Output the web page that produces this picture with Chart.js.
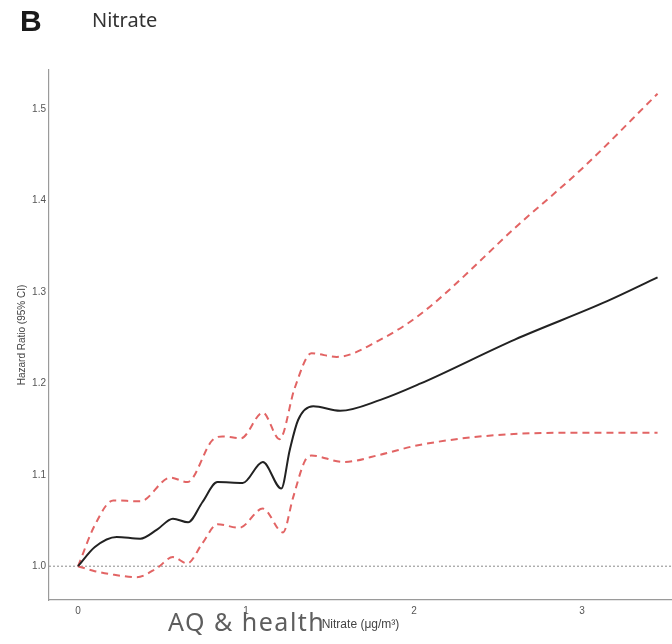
<!DOCTYPE html>
<html>
<head>
<meta charset="utf-8">
<script src="https://cdn.jsdelivr.net/npm/chart.js@4.4.1/dist/chart.umd.min.js"></script>
<style>
  body { margin: 0; background: #fff; }
  #wrap { position: relative; width: 672px; height: 644px; }
  .txt { position: absolute; white-space: nowrap; }
  #panel { left: 20px; top: 4px; font: bold 30px "Liberation Sans", Arial, sans-serif; color: #1a1a1a; }
  #title { left: 92px; top: 6px; font: 20px "Noto Sans", "Open Sans", sans-serif; color: #333; }
  #mark { left: 168px; top: 604px; font: 25px "Noto Sans", "Open Sans", sans-serif; letter-spacing: 1.5px; color: #5e5e5e; }
</style>
</head>
<body>
<div id="wrap">
  <canvas id="nitrate-chart"></canvas>
  <div class="txt" id="panel">B</div>
  <div class="txt" id="title">Nitrate</div>
  <div class="txt" id="mark">AQ &amp; health</div>
</div>
<script>
// values
const hrX = [0, 0.1, 0.23, 0.37, 0.47, 0.565, 0.655, 0.74, 0.83, 0.98, 1.10, 1.21, 1.26, 1.31, 1.40, 1.56, 1.8, 2.04, 2.6, 3.15, 3.45];
const hrY = [1.0, 1.021, 1.032, 1.030, 1.040, 1.052, 1.048, 1.070, 1.092, 1.091, 1.114, 1.085, 1.127, 1.160, 1.175, 1.170, 1.182, 1.200, 1.248, 1.290, 1.316];

const upperX = [0, 0.1, 0.21, 0.37, 0.55, 0.65, 0.80, 0.86, 0.97, 1.10, 1.20, 1.29, 1.39, 1.54, 1.8, 2.04, 2.63, 3.0, 3.45];
const upperY = [1.0, 1.045, 1.072, 1.071, 1.097, 1.092, 1.138, 1.142, 1.140, 1.168, 1.139, 1.195, 1.233, 1.229, 1.248, 1.276, 1.375, 1.435, 1.517];

const lowerX = [0, 0.09, 0.2, 0.35, 0.47, 0.565, 0.65, 0.74, 0.83, 0.96, 1.10, 1.22, 1.28, 1.35, 1.39, 1.58, 1.8, 2.04, 2.63, 3.0, 3.45];
const lowerY = [1.0, 0.995, 0.991, 0.988, 0.998, 1.010, 1.003, 1.025, 1.046, 1.042, 1.063, 1.037, 1.075, 1.115, 1.121, 1.114, 1.122, 1.133, 1.145, 1.146, 1.146];

const refX = [-0.173, 3.536];
const refY = [1.0, 1.0];

const xTicks = [0, 1, 2, 3];
const yTicks = [1.0, 1.1, 1.2, 1.3, 1.4, 1.5];

const toPoints = (xs, ys) => xs.map((x, i) => ({ x: x, y: ys[i] }));

const axisFont = '"Liberation Sans", Arial, sans-serif';

const ctx = document.getElementById('nitrate-chart');

new Chart(ctx, {
  type: 'line',
  data: {
    datasets: [
      {
        data: toPoints(hrX, hrY),
        borderColor: '#222',
        borderWidth: 2,
        cubicInterpolationMode: 'monotone',
        pointRadius: 0,
        order: 0
      },
      {
        data: toPoints(upperX, upperY),
        borderColor: '#e26464',
        borderWidth: 2,
        borderDash: [7, 5],
        cubicInterpolationMode: 'monotone',
        pointRadius: 0,
        order: 1
      },
      {
        data: toPoints(lowerX, lowerY),
        borderColor: '#e26464',
        borderWidth: 2,
        borderDash: [7, 5],
        cubicInterpolationMode: 'monotone',
        pointRadius: 0,
        order: 2
      },
      {
        data: toPoints(refX, refY),
        borderColor: '#8a8a8a',
        borderWidth: 1,
        borderDash: [2, 2],
        pointRadius: 0,
        order: 3
      }
    ]
  },
  options: {
    responsive: true,
    maintainAspectRatio: false,
    animation: false,
    layout: { padding: { top: 70, right: 0, left: 0, bottom: 0 } },
    plugins: {
      legend: { display: false },
      tooltip: { enabled: false }
    },
    scales: {
      x: {
        type: 'linear',
        min: -0.173,
        max: 3.536,
        afterFit: (scale) => { scale.height = 44; },
        afterBuildTicks: (scale) => { scale.ticks = xTicks.map(v => ({ value: v })); },
        grid: { display: false, drawTicks: false },
        border: { display: true, color: '#9a9a9a', width: 1.2 },
        ticks: { color: '#555', font: { family: axisFont, size: 10 }, padding: 5, maxRotation: 0, callback: (v) => String(v) },
        title: {
          display: true,
          text: 'Nitrate (\u03bcg/m\u00b3)',
          color: '#444',
          font: { family: axisFont, size: 12 },
          padding: { top: 0, bottom: 12 }
        }
      },
      y: {
        type: 'linear',
        min: 0.963,
        max: 1.543,
        afterFit: (scale) => { scale.width = 49; },
        afterBuildTicks: (scale) => { scale.ticks = yTicks.map(v => ({ value: v })); },
        grid: { display: false, drawTicks: false },
        border: { display: true, color: '#9a9a9a', width: 1.2 },
        ticks: { color: '#555', font: { family: axisFont, size: 10 }, padding: 3, callback: (v) => Number(v).toFixed(1) },
        title: {
          display: true,
          text: 'Hazard Ratio (95% CI)',
          color: '#444',
          font: { family: axisFont, size: 10 },
          padding: { top: 16, bottom: 0 }
        }
      }
    }
  }
});
</script>
</body>
</html>
